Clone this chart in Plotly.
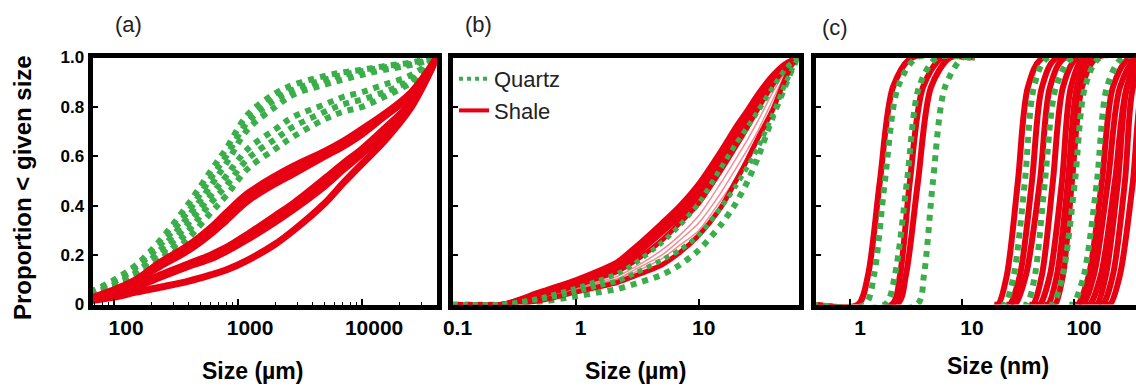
import plotly.graph_objects as go

RED = "#E60012"
RED_THIN = "rgba(230,0,18,0.45)"
GREEN = "#3BAE4B"
FONT = "Liberation Sans, Arial, sans-serif"

# ---------------- Panel (a): size in micrometres ----------------
size_a = [64, 100, 150, 235, 400, 600, 800, 1200, 2000, 2800, 5000, 7000, 10000, 15000, 25000, 40000]
quartz_a1 = [0.05, 0.10, 0.16, 0.26, 0.41, 0.54, 0.63, 0.77, 0.855, 0.89, 0.925, 0.94, 0.95, 0.965, 0.98, 1.0]
quartz_a2 = [0.05, 0.09, 0.15, 0.24, 0.38, 0.51, 0.60, 0.74, 0.83, 0.87, 0.91, 0.93, 0.945, 0.96, 0.975, 1.0]
quartz_a3 = [0.04, 0.08, 0.13, 0.22, 0.36, 0.48, 0.57, 0.71, 0.80, 0.85, 0.89, 0.91, 0.93, 0.95, 0.97, 1.0]
quartz_a4 = [0.04, 0.08, 0.12, 0.20, 0.33, 0.44, 0.52, 0.63, 0.71, 0.76, 0.81, 0.84, 0.86, 0.89, 0.93, 1.0]
quartz_a5 = [0.035, 0.07, 0.11, 0.18, 0.30, 0.41, 0.48, 0.59, 0.67, 0.72, 0.78, 0.81, 0.83, 0.86, 0.91, 1.0]
quartz_a6 = [0.03, 0.06, 0.10, 0.16, 0.27, 0.37, 0.44, 0.55, 0.63, 0.68, 0.75, 0.78, 0.80, 0.84, 0.90, 1.0]
shale_a1 = [0.025, 0.06, 0.10, 0.17, 0.24, 0.31, 0.37, 0.45, 0.52, 0.56, 0.62, 0.66, 0.71, 0.77, 0.86, 1.0]
shale_a2 = [0.02, 0.055, 0.095, 0.155, 0.22, 0.285, 0.34, 0.42, 0.49, 0.53, 0.60, 0.64, 0.69, 0.76, 0.85, 1.0]
shale_a3 = [0.02, 0.045, 0.075, 0.12, 0.165, 0.20, 0.23, 0.285, 0.36, 0.41, 0.51, 0.57, 0.63, 0.71, 0.82, 1.0]
shale_a4 = [0.02, 0.04, 0.07, 0.11, 0.155, 0.185, 0.215, 0.265, 0.335, 0.385, 0.48, 0.545, 0.61, 0.69, 0.81, 1.0]
shale_a5 = [0.015, 0.03, 0.05, 0.07, 0.095, 0.12, 0.14, 0.18, 0.245, 0.30, 0.41, 0.49, 0.57, 0.66, 0.80, 1.0]

# ---------------- Panel (b): size in micrometres ----------------
size_b = [0.1, 0.25, 0.5, 1, 1.5, 2.2, 3, 5, 7, 10, 15, 20, 25, 30, 40, 50, 57, 64]
shale_b1 = [0, 0, 0.05, 0.10, 0.135, 0.175, 0.23, 0.33, 0.40, 0.49, 0.62, 0.72, 0.79, 0.85, 0.93, 0.975, 0.99, 1.0]
shale_b2 = [0, 0, 0.045, 0.09, 0.125, 0.16, 0.21, 0.31, 0.38, 0.46, 0.60, 0.70, 0.77, 0.83, 0.92, 0.97, 0.99, 1.0]
shale_b3 = [0, 0, 0.04, 0.085, 0.115, 0.15, 0.195, 0.29, 0.355, 0.44, 0.57, 0.67, 0.75, 0.81, 0.90, 0.96, 0.985, 1.0]
shale_b4 = [0, 0, 0.035, 0.075, 0.105, 0.135, 0.175, 0.26, 0.33, 0.41, 0.54, 0.64, 0.72, 0.79, 0.89, 0.955, 0.98, 1.0]
shale_b5 = [0, 0, 0.03, 0.065, 0.09, 0.115, 0.15, 0.22, 0.28, 0.36, 0.49, 0.59, 0.67, 0.74, 0.86, 0.94, 0.98, 1.0]
shale_b6 = [0, 0, 0.025, 0.06, 0.085, 0.105, 0.14, 0.20, 0.26, 0.33, 0.45, 0.55, 0.63, 0.70, 0.83, 0.93, 0.97, 1.0]
shale_b7 = [0, 0, 0.02, 0.055, 0.08, 0.10, 0.13, 0.185, 0.24, 0.30, 0.42, 0.51, 0.59, 0.66, 0.80, 0.91, 0.96, 1.0]
shale_b8 = [0, 0, 0.015, 0.05, 0.07, 0.09, 0.115, 0.16, 0.21, 0.28, 0.39, 0.50, 0.59, 0.67, 0.79, 0.91, 0.97, 1.0]
quartz_b1 = [0, 0, 0.025, 0.065, 0.095, 0.125, 0.165, 0.25, 0.32, 0.41, 0.55, 0.65, 0.72, 0.78, 0.88, 0.95, 0.98, 1.0]
quartz_b2 = [0, 0, 0.02, 0.05, 0.075, 0.095, 0.125, 0.18, 0.22, 0.28, 0.39, 0.48, 0.56, 0.63, 0.77, 0.89, 0.95, 1.0]
quartz_b3 = [0, 0, 0.01, 0.033, 0.048, 0.063, 0.083, 0.12, 0.16, 0.22, 0.32, 0.41, 0.50, 0.59, 0.76, 0.88, 0.95, 1.0]

# ---------------- Panel (c): size in nanometres ----------------
# shared proportion levels, per-curve sizes (nm) at those levels
levels_c = [0, 0, 0.12, 0.5, 0.88, 1, 1]
shale_c1 = [0.45, 1.18, 1.45, 1.85, 2.42, 3.58, 11.8]
shale_c2 = [0.45, 2.37, 2.80, 3.43, 4.49, 6.63, 12.3]
shale_c3 = [0.45, 2.63, 3.16, 4.05, 5.29, 7.82, 13.1]
shale_c4 = [19.3, 21.0, 25.2, 31.6, 38.8, 52.9, 884]
shale_c5 = [24.7, 26.8, 33.0, 42.2, 51.8, 70.5, 884]
shale_c6 = [27.4, 29.7, 37.3, 49.7, 61.1, 83.1, 884]
shale_c7 = [39.7, 43.1, 51.8, 64.9, 79.8, 108.6, 884]
shale_c8 = [45.8, 49.7, 61.1, 78.2, 94.0, 125.4, 884]
shale_c9 = [54.0, 58.6, 70.5, 88.4, 106.4, 138.9, 884]
shale_c10 = [62.3, 67.7, 79.8, 96.0, 117.9, 160.5, 884]
shale_c11 = [100, 108.6, 136.1, 177.8, 222.9, 316.2, 884]
shale_c12 = [110.8, 120.3, 150.9, 201.2, 257.5, 365.2, 884]
shale_c13 = [128.0, 138.9, 174.2, 232.3, 297.3, 421.7, 884]
shale_c14 = [147.8, 160.5, 193.1, 247.1, 297.3, 388.5, 884]
shale_c15 = [167.2, 181.5, 222.9, 285.4, 336.4, 439.4, 884]
shale_c16 = [193.1, 209.6, 257.5, 336.4, 404.8, 528.7, 884]
quartz_c1 = [0.45, 1.36, 1.64, 2.05, 2.68, 3.97, 11.8]
quartz_c2 = [0.45, 2.05, 2.52, 3.23, 4.13, 5.98, 13.1]
quartz_c3 = [0.45, 3.97, 4.58, 5.51, 7.05, 10.2, 13.1]
quartz_c4 = [22.3, 24.2, 29.1, 36.5, 43.9, 58.6, 884]
quartz_c5 = [35.1, 38.1, 44.9, 55.1, 69.1, 98.0, 884]
quartz_c6 = [59.8, 64.9, 79.8, 102.1, 125.4, 170.7, 884]
quartz_c7 = [90.3, 98.0, 122.8, 160.5, 197.0, 273.8, 884]

fig = go.Figure()


def add(x, y, ax, color, width, dash="solid", smooth=1.0):
    fig.add_trace(go.Scatter(
        x=x, y=y, mode="lines", xaxis="x" + ax, yaxis="y" + ax,
        line=dict(color=color, width=width, dash=dash, shape="spline", smoothing=smooth),
        showlegend=False, hoverinfo="skip"))


# panel (a)
for q in [quartz_a1, quartz_a2, quartz_a3, quartz_a4, quartz_a5, quartz_a6]:
    add(size_a, q, "", GREEN, 6, "dot")
for s in [shale_a1, shale_a2, shale_a3, shale_a4, shale_a5]:
    add(size_a, s, "", RED, 7)

# panel (b)
add(size_b, quartz_b3, "2", GREEN, 6, "dot", smooth=0.7)
for s in [shale_b1, shale_b2, shale_b3, shale_b4, shale_b8]:
    add(size_b, s, "2", RED, 5, smooth=0.7)
for s in [shale_b5, shale_b6, shale_b7]:
    add(size_b, s, "2", RED_THIN, 1.5, smooth=0.7)
for q in [quartz_b1, quartz_b2]:
    add(size_b, q, "2", GREEN, 5, "dot", smooth=0.7)

# panel (c)
for s in [shale_c1, shale_c2, shale_c3, shale_c4, shale_c5, shale_c6, shale_c7, shale_c8,
          shale_c9, shale_c10, shale_c11, shale_c12, shale_c13, shale_c14, shale_c15, shale_c16]:
    add(s, levels_c, "3", RED, 6, smooth=0.8)
for q in [quartz_c1, quartz_c2, quartz_c3, quartz_c4, quartz_c5, quartz_c6, quartz_c7]:
    add(q, levels_c, "3", GREEN, 6, "dot", smooth=0.8)

# legend entries
fig.add_trace(go.Scatter(x=[None], y=[None], mode="lines", name="Quartz", xaxis="x2", yaxis="y2",
                         line=dict(color=GREEN, width=4, dash="dot")))
fig.add_trace(go.Scatter(x=[None], y=[None], mode="lines", name="Shale", xaxis="x2", yaxis="y2",
                         line=dict(color=RED, width=4)))

W, H = 1136, 387
ydom = [1 - 304.5 / H, 1 - 57.5 / H]

xbase = dict(type="log", showline=True, linecolor="black", linewidth=5, mirror=True,
             ticks="inside", tickcolor="black", tickwidth=1.5, ticklen=6, automargin=False,
             showgrid=False, zeroline=False, dtick=1, tick0=0, exponentformat="none",
             tickfont=dict(family=FONT, size=21, color="black", weight="bold"))
ybase = dict(range=[0, 1], domain=ydom, showline=True, linecolor="black", linewidth=5,
             ticks="inside", tickcolor="black", tickwidth=1.5, ticklen=5, automargin=False,
             showgrid=False, zeroline=False)

fig.update_layout(
    width=W, height=H, margin=dict(l=0, r=0, t=0, b=0, pad=0, autoexpand=False),
    paper_bgcolor="white", plot_bgcolor="white",
    xaxis=dict(xbase, domain=[92.5 / W, 436.5 / W], range=[1.826, 4.600], anchor="y",
               ticklabelshift=12, tickformat="d",
               minor=dict(ticks="inside", ticklen=3, tickwidth=1, tickcolor="black", dtick="D1",
                          showgrid=False)),
    xaxis2=dict(xbase, domain=[452.5 / W, 798.5 / W], range=[-1.0, 1.81], anchor="y2",
                ticklabelshift=5),
    xaxis3=dict(xbase, domain=[815.5 / W, 1.0], range=[-0.308, 2.554], anchor="y3",
                ticklabelshift=10),
    yaxis=dict(ybase, anchor="x", mirror=True,
               tickvals=[0, 0.2, 0.4, 0.6, 0.8, 1.0],
               ticktext=["0", "0.2", "0.4", "0.6", "0.8", "1.0"],
               tickfont=dict(family=FONT, size=17, color="black", weight="bold")),
    yaxis2=dict(ybase, anchor="x2", mirror=True, tickvals=[0.2, 0.4, 0.6, 0.8],
                showticklabels=False),
    yaxis3=dict(ybase, anchor="x3", mirror=False, tickvals=[0.2, 0.4, 0.6, 0.8],
                showticklabels=False),
    showlegend=True,
    legend=dict(x=454 / W, y=1 - 58 / H, xanchor="left", yanchor="top",
                bgcolor="rgba(0,0,0,0)", borderwidth=0,
                font=dict(family=FONT, size=22, color="#222222"), tracegroupgap=0),
)


def note(text, px, py, size, bold=True, angle=0, color="black"):
    fig.add_annotation(text=text, x=px / W, y=1 - py / H, xref="paper", yref="paper",
                       xanchor="center", yanchor="middle", showarrow=False, textangle=angle,
                       font=dict(family=FONT, size=size, color=color,
                                 weight="bold" if bold else "normal"))


note("Size (µm)", 252, 371, 23)
note("Size (µm)", 635, 371, 23)
note("Size (nm)", 998, 366, 23)
note("Proportion < given size", 22, 188, 24, angle=-90)
note("(a)", 128, 25, 22, bold=False, color="#222222")
note("(b)", 478, 25, 22, bold=False, color="#222222")
note("(c)", 835, 27, 22, bold=False, color="#222222")

fig.write_html("out.html")
